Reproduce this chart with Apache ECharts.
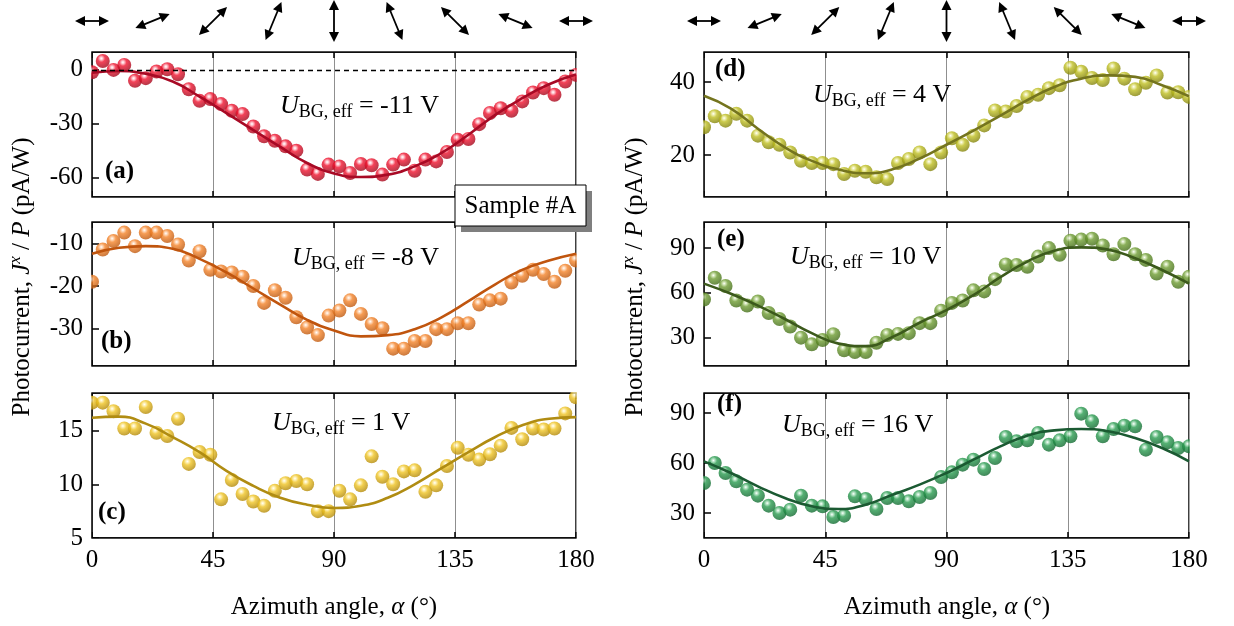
<!DOCTYPE html>
<html>
<head>
<meta charset="utf-8">
<script src="https://cdn.jsdelivr.net/npm/echarts@6/dist/echarts.min.js"></script>
<style>
  html, body { margin: 0; padding: 0; background: #fff; }
  #chart { width: 1234px; height: 626px; }
</style>
</head>
<body>
<div id="chart"></div>
<script>
// measured angles (deg) and fit sampling angles
const angles = [0, 4, 8, 12, 16, 20, 24, 28, 32, 36, 40, 44, 48, 52, 56, 60, 64, 68, 72, 76, 80, 84, 88,
  92, 96, 100, 104, 108, 112, 116, 120, 124, 128, 132, 136, 140, 144, 148, 152, 156, 160, 164, 168, 172, 176, 180];
const fitAngles = [0, 10, 20, 30, 40, 50, 60, 70, 80, 90, 100, 110, 120, 130, 140, 150, 160, 170, 180];
const arrowAngles = [0, 22.5, 45, 67.5, 90, 112.5, 135, 157.5, 180];

// (a) U = -11 V
const valsA = [-1.3, 5.0, 0, 2.8, -6.1, -4.6, -0.9, 0.4, -2.4, -10.8, -17.3, -16.3, -19.1, -22.8, -24.7, -31.6,
  -37.1, -39.6, -42.7, -45.1, -55.7, -58.1, -52.9, -53.9, -57.6, -52.6, -53.3, -58.5, -52.9, -50.1, -56.3, -50.1,
  -51.1, -45.9, -39.0, -38.6, -30.3, -24.1, -21.4, -22.8, -17.6, -12.6, -10.2, -13.9, -6.5, -2.8];
const fitA = [-1.5, -0.6, -2.2, -6.5, -14.9, -24.1, -33.6, -43.0, -52.0, -57.8, -59.8, -58.5, -53.9, -46.4, -36.2, -25.1, -15.8, -8.0, -2.6];
const ticksA = [-60, -30, 0];

// (b) U = -8 V
const valsB = [-19.0, -11.4, -9.4, -7.4, -10.6, -7.4, -7.4, -8.2, -10.2, -14.0, -11.8, -16.2, -16.6, -16.8, -17.8, -20.0,
  -24.0, -21.0, -22.8, -27.4, -29.8, -31.6, -27.0, -25.8, -23.4, -26.6, -29.0, -30.0, -34.8, -34.8, -33.0, -33.0,
  -30.2, -30.2, -28.8, -28.8, -24.4, -23.4, -23.0, -19.2, -17.6, -16.2, -17.2, -19.0, -16.4, -14.0];
const fitB = [-12.4, -11.0, -10.6, -11.2, -13.6, -16.8, -20.6, -24.4, -28.0, -30.5, -31.9, -31.6, -30.2, -27.4, -23.6, -19.6, -16.2, -14.0, -12.4];
const ticksB = [-30, -20, -10];

// (c) U = 1 V
const valsC = [17.6, 17.6, 16.8, 15.2, 15.2, 17.2, 14.8, 14.5, 16.1, 11.9, 13.0, 12.75, 8.6, 10.4, 9.1, 8.4,
  8.0, 9.4, 10.1, 10.3, 10.0, 7.5, 7.5, 9.4, 8.6, 9.9, 12.6, 10.7, 10.0, 11.2, 11.3, 9.3,
  9.9, 11.7, 13.4, 12.75, 12.3, 12.8, 13.6, 15.25, 14.2, 15.2, 15.1, 15.2, 16.6, 18.1];
const fitC = [16.2, 16.3, 15.65, 14.4, 13.0, 11.25, 9.85, 8.75, 8.1, 7.8, 8.0, 8.75, 10.0, 11.5, 13.0, 14.4, 15.5, 16.1, 16.25];
const ticksC = [5, 10, 15];

// (d) U = 4 V
const valsD = [27.6, 30.6, 29.4, 31.3, 29.4, 25.3, 23.5, 22.8, 20.7, 18.4, 17.8, 17.8, 17.5, 14.8, 15.7, 15.4,
  13.9, 13.4, 17.8, 18.9, 20.7, 17.5, 20.7, 24.6, 22.8, 25.3, 28.1, 32.2, 31.9, 33.4, 35.9, 36.5,
  38.3, 39.1, 43.9, 42.8, 41.1, 40.5, 43.7, 40.9, 38.0, 39.8, 41.8, 37.1, 37.2, 35.9];
const fitD = [36.2, 32.7, 27.2, 22.1, 18.4, 16.0, 15.0, 16.1, 19.0, 22.8, 26.7, 30.8, 35.0, 38.6, 40.9, 41.8, 41.4, 39.1, 36.1];
const ticksD = [20, 40];

// (e) U = 10 V
const valsE = [55.6, 70.1, 64.6, 54.9, 51.5, 54.2, 46.5, 42.5, 37.5, 30.0, 25.5, 28.4, 32.3, 21.6, 20.3, 20.3,
  26.6, 31.8, 32.5, 33.0, 39.7, 39.7, 48.1, 53.3, 54.9, 61.7, 61.0, 69.2, 79.1, 78.7, 77.5, 84.3,
  90.0, 85.5, 95.0, 95.7, 96.3, 91.8, 85.9, 92.7, 85.9, 82.1, 73.0, 77.5, 67.4, 70.8];
const fitE = [66.2, 59.4, 51.5, 42.5, 33.0, 26.0, 24.3, 30.5, 40.0, 48.5, 58.5, 70.5, 81.0, 88.2, 90.5, 89.0, 83.2, 75.3, 66.2];
const ticksE = [30, 60, 90];

// (f) U = 16 V
const valsF = [48, 60, 54, 49, 44, 40.4, 34.4, 30, 32, 40.4, 34.4, 34, 27.6, 28.4, 40, 38.4,
  32.4, 39, 39, 37, 39.6, 42, 51.6, 54.4, 59, 62, 56.4, 63, 75.6, 73, 73.6, 78,
  71, 73.6, 76, 89.6, 85, 76, 80.4, 82.4, 82, 68, 75.6, 72.4, 69, 70];
const fitF = [61, 54, 46, 39, 34, 32.4, 35, 41, 47, 54, 62, 70, 76.4, 79.6, 80.4, 79, 75, 69, 61];
const ticksF = [30, 60, 90];

const FONT = '"Liberation Serif", "Times New Roman", serif';

// layout
const colLeft = [92, 704];
const colWidth = [484, 485];
const rowTop = [52, 222, 393];
const rowHeight = [145, 144, 145];

const panels = [
  { vals: valsA, fit: fitA, ticks: ticksA, min: -71, max: 10, col: 0, row: 0, tag: '(a)', gate: '-11',
    dot: ['#ffc8d0', '#f0142f', '#a0061a'], line: '#a80a25', tagPos: [105, 172], gatePos: [280, 106] },
  { vals: valsB, fit: fitB, ticks: ticksB, min: -38.9, max: -4.9, col: 0, row: 1, tag: '(b)', gate: '-8',
    dot: ['#ffd8b8', '#f4842a', '#bc560c'], line: '#c0550e', tagPos: [101, 342], gatePos: [292, 258] },
  { vals: valsC, fit: fitC, ticks: ticksC, min: 5, max: 18.5, col: 0, row: 2, tag: '(c)', gate: '1',
    dot: ['#fff0b0', '#efc424', '#b08606'], line: '#b08c12', tagPos: [98, 513], gatePos: [272, 423] },
  { vals: valsD, fit: fitD, ticks: ticksD, min: 8.5, max: 48.2, col: 1, row: 0, tag: '(d)', gate: '4',
    dot: ['#eeeeaa', '#bfbf22', '#80800a'], line: '#74741e', tagPos: [715, 70], gatePos: [813, 95] },
  { vals: valsE, fit: fitE, ticks: ticksE, min: 11, max: 107.5, col: 1, row: 1, tag: '(e)', gate: '10',
    dot: ['#cfe4b0', '#6e9c32', '#426c16'], line: '#3c5a1c', tagPos: [717, 240], gatePos: [790, 257] },
  { vals: valsF, fit: fitF, ticks: ticksF, min: 15, max: 102, col: 1, row: 2, tag: '(f)', gate: '16',
    dot: ['#b4e4c4', '#2a9c50', '#10682f'], line: '#1b5a32', tagPos: [717, 405], gatePos: [782, 425] }
];

const chart = echarts.init(document.getElementById('chart'));

const axisLine = { show: true, onZero: false, lineStyle: { color: '#000', width: 1.5 } };
const grids = [], xAxes = [], yAxes = [], series = [];

panels.forEach((p, i) => {
  grids.push({
    left: colLeft[p.col], width: colWidth[p.col], top: rowTop[p.row], height: rowHeight[p.row],
    show: true, borderColor: '#000', borderWidth: 1.5, containLabel: false
  });
  xAxes.push({
    type: 'value', gridIndex: i, min: 0, max: 180, interval: 45, position: 'bottom',
    axisLine: axisLine,
    axisTick: { show: true, inside: true, length: 6, lineStyle: { color: '#000', width: 1.5 } },
    axisLabel: { show: p.row === 2, color: '#000', fontFamily: FONT, fontSize: 25, margin: 10,
      showMinLabel: true, showMaxLabel: true, hideOverlap: false },
    splitLine: { show: true, lineStyle: { color: '#8f8f8f', width: 1 } }
  });
  xAxes.push({
    type: 'value', gridIndex: i, min: 0, max: 180, interval: 45, position: 'top',
    axisLine: axisLine,
    axisTick: { show: true, inside: true, length: 6, lineStyle: { color: '#000', width: 1.5 } },
    axisLabel: { show: false },
    splitLine: { show: false }
  });
  yAxes.push({
    type: 'value', gridIndex: i, min: p.min, max: p.max,
    axisLine: axisLine,
    axisTick: { show: true, inside: true, length: 7, customValues: p.ticks, lineStyle: { color: '#000', width: 1.5 } },
    axisLabel: { customValues: p.ticks, color: '#000', fontFamily: FONT, fontSize: 25, margin: 9 },
    splitLine: { show: false }
  });

  const scatter = {
    type: 'scatter', xAxisIndex: 2 * i, yAxisIndex: i, z: 2,
    data: angles.map((a, k) => [a, p.vals[k]]),
    symbol: 'circle', symbolSize: 14,
    itemStyle: {
      color: new echarts.graphic.RadialGradient(0.4, 0.32, 0.7, [
        { offset: 0, color: '#ffffff' },
        { offset: 0.12, color: p.dot[0] },
        { offset: 0.38, color: p.dot[1] },
        { offset: 1, color: p.dot[2] }
      ])
    }
  };
  if (i === 0) {
    scatter.markLine = {
      silent: true, symbol: 'none', label: { show: false },
      lineStyle: { color: '#000', type: [5, 4], width: 1.3 },
      data: [{ yAxis: 0 }]
    };
  }
  series.push(scatter);
  series.push({
    type: 'line', xAxisIndex: 2 * i, yAxisIndex: i, z: 3,
    data: fitAngles.map((a, k) => [a, p.fit[k]]),
    smooth: true, showSymbol: false,
    lineStyle: { color: p.line, width: 2.6 }
  });
});

chart.setOption({
  animation: false,
  backgroundColor: '#fff',
  grid: grids, xAxis: xAxes, yAxis: yAxes, series: series
});

// texts, box, masks and polarization arrows
const baseText = { fontFamily: FONT, color: '#000' };
const gateRich = {
  u: Object.assign({ fontSize: 26, fontStyle: 'italic', lineHeight: 30 }, baseText),
  s: Object.assign({ fontSize: 18, lineHeight: 13, verticalAlign: 'bottom' }, baseText),
  n: Object.assign({ fontSize: 26, lineHeight: 30 }, baseText)
};
const titleRich = {
  r: Object.assign({ fontSize: 25, lineHeight: 30 }, baseText),
  i: Object.assign({ fontSize: 25, lineHeight: 30, fontStyle: 'italic' }, baseText),
  sup: Object.assign({ fontSize: 17, lineHeight: 20, fontStyle: 'italic', verticalAlign: 'top' }, baseText)
};

const elements = [];

// white masks so edge markers look clipped by the frame
panels.forEach(p => {
  const l = colLeft[p.col], w = colWidth[p.col], t = rowTop[p.row], h = rowHeight[p.row];
  const mask = (x, y, ww, hh) => ({ type: 'rect', z: 5, silent: true,
    shape: { x: x, y: y, width: ww, height: hh }, style: { fill: '#fff' } });
  elements.push(mask(l - 8, t - 8, 7.2, h + 16));
  elements.push(mask(l + w + 0.8, t - 8, 9, h + 16));
  elements.push(mask(l - 8, t - 9, w + 17, 8.2));
  elements.push(mask(l - 8, t + h + 0.8, w + 17, 8.5));
});

panels.forEach(p => {
  elements.push({
    type: 'text', x: p.tagPos[0], y: p.tagPos[1], z: 10,
    style: { text: p.tag, fontFamily: FONT, fontSize: 25, fontWeight: 'bold', fill: '#000',
      align: 'left', verticalAlign: 'middle' }
  });
  elements.push({
    type: 'text', x: p.gatePos[0], y: p.gatePos[1], z: 10,
    style: { text: '{u|U}{s|BG, eff}{n| = ' + p.gate + ' V}', rich: gateRich,
      align: 'left', verticalAlign: 'middle' }
  });
});

[22, 635].forEach(x => {
  elements.push({
    type: 'text', x: x, y: 277, rotation: Math.PI / 2, z: 10,
    style: { text: '{r|Photocurrent, }{i|J}{sup|x}{r| / }{i|P}{r| (pA/W)}', rich: titleRich,
      align: 'center', verticalAlign: 'middle' }
  });
});
[334, 947].forEach(x => {
  elements.push({
    type: 'text', x: x, y: 607, z: 10,
    style: { text: '{r|Azimuth angle, }{i|α}{r| (°)}', rich: titleRich,
      align: 'center', verticalAlign: 'middle' }
  });
});

// Sample #A label box with drop shadow
elements.push({ type: 'rect', z: 20, shape: { x: 461, y: 191, width: 131, height: 41 }, style: { fill: '#7f7f7f' } });
elements.push({ type: 'rect', z: 21, shape: { x: 455, y: 185, width: 131, height: 41 },
  style: { fill: '#fff', stroke: '#000', lineWidth: 1 } });
elements.push({ type: 'text', z: 22, x: 520.5, y: 206,
  style: { text: 'Sample #A', fontFamily: FONT, fontSize: 25, fill: '#000', align: 'center', verticalAlign: 'middle' } });

// double-headed arrows above each column
function arrow(cx, cy, deg) {
  const rad = deg * Math.PI / 180;
  const len = 34 + 8 * Math.abs(Math.sin(rad));
  const head = 10, hw = 5;
  const h = len / 2;
  return {
    type: 'group', x: cx, y: cy, rotation: rad, z: 10,
    children: [
      { type: 'line', shape: { x1: -h + 5, y1: 0, x2: h - 5, y2: 0 }, style: { stroke: '#000', lineWidth: 1.8 } },
      { type: 'polygon', shape: { points: [[h, 0], [h - head, -hw], [h - head, hw]] }, style: { fill: '#000' } },
      { type: 'polygon', shape: { points: [[-h, 0], [-h + head, -hw], [-h + head, hw]] }, style: { fill: '#000' } }
    ]
  };
}
[0, 6].forEach(axisIdx => {
  arrowAngles.forEach(a => {
    const px = chart.convertToPixel({ xAxisIndex: axisIdx }, a);
    elements.push(arrow(px, 21, a));
  });
});

chart.setOption({ graphic: { elements: elements } });
</script>
</body>
</html>
